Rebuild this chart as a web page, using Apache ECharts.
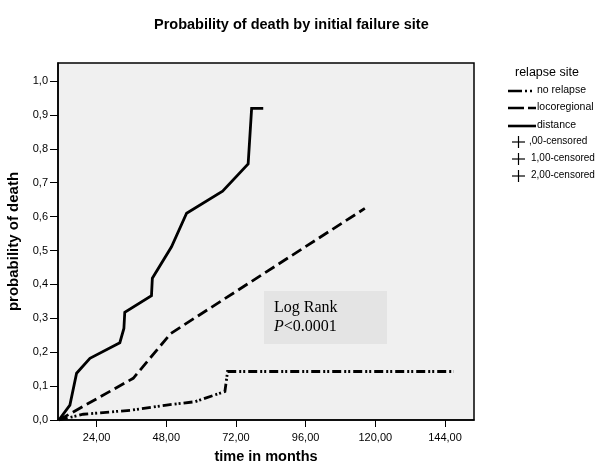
<!DOCTYPE html>
<html>
<head>
<meta charset="utf-8">
<script src="https://cdn.jsdelivr.net/npm/echarts@6/dist/echarts.min.js"></script>
<style>html,body{margin:0;padding:0;background:#fff}#c{width:596px;height:467px}</style>
</head>
<body>
<div id="c"></div>
<script>
// ---- data ----
var xTickValues = [24, 48, 72, 96, 120, 144];
var yTickValues = [0, 0.1, 0.2, 0.3, 0.4, 0.5, 0.6, 0.7, 0.8, 0.9, 1.0];

var noRelapseTime = [11.0, 19.4, 36.0, 48.1, 57.9, 68.2, 69.1, 146.9];
var noRelapseProb = [0, 0.017, 0.029, 0.044, 0.054, 0.084, 0.143, 0.143];

var locoTime = [11.0, 36.6, 49.5, 116.4];
var locoProb = [0, 0.123, 0.255, 0.624];

var distanceTime = [11.0, 14.8, 17.1, 21.7, 32.0, 33.4, 33.7, 42.9, 43.2, 49.8, 55.0, 67.4, 76.2, 77.4, 81.4];
var distanceProb = [0, 0.044, 0.138, 0.182, 0.228, 0.270, 0.318, 0.367, 0.418, 0.511, 0.610, 0.675, 0.755, 0.919, 0.919];

var seriesNames = ['no relapse', 'locoregional', 'distance'];
var censoredNames = [',00-censored', '1,00-censored', '2,00-censored'];

function pairs(t, p) { return t.map(function (v, i) { return [v, p[i]]; }); }

var FONT = '"Liberation Sans", Arial, sans-serif';
var SERIF = '"Liberation Serif", "Times New Roman", serif';
var dashNoRel = [9, 3, 2, 2, 2, 3];
var dashLoco = [11, 5];

var chart = echarts.init(document.getElementById('c'), null, { renderer: 'canvas' });

var legendGraphics = [
  { type: 'text', left: 515, top: 66, style: { text: 'relapse site', font: '12.5px ' + FONT, fill: '#000' } }
];
var legendY = [91, 108, 126];
var legendDash = [[14, 3, 2, 3, 2, 4], [16, 4], null];
seriesNames.forEach(function (n, i) {
  legendGraphics.push({
    type: 'line', shape: { x1: 508, y1: legendY[i], x2: 536, y2: legendY[i] },
    style: { stroke: '#000', lineWidth: 2.6, lineDash: legendDash[i] || null }
  });
  legendGraphics.push({
    type: 'text', left: 537, top: legendY[i] - 6.5,
    style: { text: n, font: '10.5px ' + FONT, fill: '#000' }
  });
});
var censY = [142, 159, 176];
censoredNames.forEach(function (n, i) {
  legendGraphics.push({ type: 'line', shape: { x1: 512, y1: censY[i], x2: 525, y2: censY[i] }, style: { stroke: '#000', lineWidth: 1.2 } });
  legendGraphics.push({ type: 'line', shape: { x1: 518.5, y1: censY[i] - 6, x2: 518.5, y2: censY[i] + 6 }, style: { stroke: '#000', lineWidth: 1.2 } });
  legendGraphics.push({
    type: 'text', left: (i === 0 ? 529 : 531), top: censY[i] - 6,
    style: { text: n, font: '10px ' + FONT, fill: '#000' }
  });
});

var option = {
  backgroundColor: '#fff',
  animation: false,
  title: {
    text: 'Probability of death by initial failure site',
    left: 149, top: 12,
    textStyle: { fontFamily: FONT, fontSize: 14.5, fontWeight: 'bold', color: '#000' }
  },
  grid: {
    left: 58, top: 63, right: 122, bottom: 47,
    outerBoundsMode: 'none', containLabel: false,
    show: true, backgroundColor: '#f0f0f0', borderColor: '#000', borderWidth: 1.5
  },
  xAxis: {
    type: 'value', min: 10.7, max: 154,
    name: 'time in months', nameLocation: 'middle', nameGap: 29,
    nameTextStyle: { fontFamily: FONT, fontSize: 14.5, fontWeight: 'bold', color: '#000' },
    axisLine: { show: true, onZero: false, lineStyle: { color: '#000', width: 1.5 } },
    axisTick: { show: true, length: 7, customValues: xTickValues, lineStyle: { color: '#000', width: 1 } },
    axisLabel: {
      customValues: xTickValues, color: '#000', fontSize: 11, margin: 12,
      fontFamily: FONT,
      formatter: function (v) { return v.toFixed(2).replace('.', ','); }
    },
    splitLine: { show: false }
  },
  yAxis: {
    type: 'value', min: 0, max: 1.053,
    name: 'probability of death', nameLocation: 'middle', nameGap: 34,
    nameTextStyle: { fontFamily: FONT, fontSize: 15, fontWeight: 'bold', color: '#000' },
    axisLine: { show: true, onZero: false, lineStyle: { color: '#000', width: 1.5 } },
    axisTick: { show: true, length: 8, customValues: yTickValues, lineStyle: { color: '#000', width: 1 } },
    axisLabel: {
      customValues: yTickValues, color: '#000', fontSize: 11, margin: 10,
      fontFamily: FONT,
      formatter: function (v) { return v.toFixed(1).replace('.', ','); }
    },
    splitLine: { show: false }
  },
  series: [
    {
      name: seriesNames[0], type: 'line', data: pairs(noRelapseTime, noRelapseProb),
      showSymbol: false, symbol: 'none', z: 3,
      lineStyle: { color: '#000', width: 2.8, type: dashNoRel, cap: 'butt', join: 'miter' }
    },
    {
      name: seriesNames[1], type: 'line', data: pairs(locoTime, locoProb),
      showSymbol: false, symbol: 'none', z: 3,
      lineStyle: { color: '#000', width: 2.8, type: dashLoco, cap: 'butt', join: 'miter' }
    },
    {
      name: seriesNames[2], type: 'line', data: pairs(distanceTime, distanceProb),
      showSymbol: false, symbol: 'none', z: 3,
      lineStyle: { color: '#000', width: 2.8, type: 'solid', join: 'miter' }
    }
  ],
  graphic: [
    { type: 'rect', shape: { x: 264, y: 291, width: 123, height: 53 }, style: { fill: '#e4e4e4' }, z: 1 },
    {
      type: 'text', left: 274, top: 298, z: 2,
      style: {
        text: 'Log Rank\n{i|P}<0.0001',
        font: '16px ' + SERIF, fill: '#000', lineHeight: 19,
        rich: { i: { fontStyle: 'italic', fontFamily: SERIF, fontSize: 16 } }
      }
    }
  ].concat(legendGraphics)
};
chart.setOption(option);
</script>
</body>
</html>
